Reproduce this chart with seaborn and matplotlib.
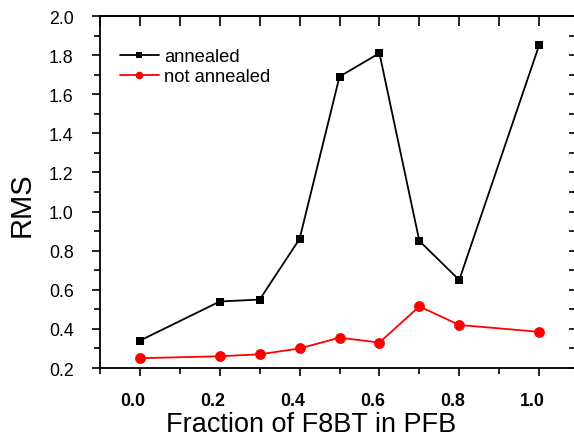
import matplotlib
matplotlib.use("Agg")
import matplotlib.pyplot as plt
import matplotlib.transforms as mtransforms
import seaborn as sns
import pandas as pd
from matplotlib.ticker import MultipleLocator, FormatStrFormatter

fraction_annealed = [0.0, 0.2, 0.3, 0.4, 0.5, 0.6, 0.7, 0.8, 1.0]
rms_annealed = [0.34, 0.54, 0.55, 0.86, 1.69, 1.81, 0.85, 0.65, 1.85]
fraction_not = [0.0, 0.2, 0.3, 0.4, 0.5, 0.6, 0.7, 0.8, 1.0]
rms_not = [0.25, 0.26, 0.27, 0.30, 0.355, 0.33, 0.515, 0.42, 0.385]
series_names = ["annealed", "not annealed"]

df = pd.concat([
    pd.DataFrame({"x": fraction_annealed, "y": rms_annealed, "s": series_names[0]}),
    pd.DataFrame({"x": fraction_not, "y": rms_not, "s": series_names[1]}),
])

sns.set_style("ticks")
plt.rcParams["font.family"] = ["Liberation Sans", "DejaVu Sans"]
plt.rcParams["text.color"] = "black"
plt.rcParams["axes.labelcolor"] = "black"
plt.rcParams["xtick.color"] = "black"
plt.rcParams["ytick.color"] = "black"

fig = plt.figure(figsize=(5.74, 4.39), dpi=100)
W, H = 574, 439
ax = fig.add_axes([100 / W, 1 - 369 / H, (579 - 100) / W, (369 - 17) / H])

sns.lineplot(data=df, x="x", y="y", hue="s", style="s",
             palette={"annealed": "black", "not annealed": "red"},
             markers={"annealed": "s", "not annealed": "o"},
             dashes=False, linewidth=1.3,
             markeredgewidth=0, ax=ax, sort=False)
for ln in ax.lines:
    c = ln.get_color()
    ln.set_markersize(6.2 if c == "black" else 7.8)
    ln.set_clip_on(False)

ax.set_xlim(-0.1, 1.1)
ax.set_ylim(0.2, 2.0)
ax.xaxis.set_major_locator(MultipleLocator(0.2))
ax.xaxis.set_minor_locator(MultipleLocator(0.1))
ax.yaxis.set_major_locator(MultipleLocator(0.2))
ax.yaxis.set_minor_locator(MultipleLocator(0.1))
ax.xaxis.set_major_formatter(FormatStrFormatter("%.1f"))
ax.yaxis.set_major_formatter(FormatStrFormatter("%.1f"))

for s in ax.spines.values():
    s.set_linewidth(1.3)
    s.set_color("black")

ax.tick_params(which="both", direction="out", width=1.2, color="black",
               labelcolor="black")
ax.tick_params(which="major", length=6)
ax.tick_params(which="minor", length=4)
ax.tick_params(axis="x", which="major", labelsize=12.8, pad=11)
ax.tick_params(axis="y", which="major", labelsize=12.8, pad=13)
shift = mtransforms.ScaledTranslation(-7 / 100, 0, fig.dpi_scale_trans)
for lab in ax.get_xticklabels():
    lab.set_fontweight("bold")
    lab.set_transform(lab.get_transform() + shift)

top = ax.secondary_xaxis("top")
top.xaxis.set_major_locator(MultipleLocator(0.1))
top.tick_params(direction="in", length=7, width=1.2, labeltop=False)
right = ax.secondary_yaxis("right")
right.yaxis.set_major_locator(MultipleLocator(0.1))
right.tick_params(direction="in", length=7, width=1.2, labelright=False)
for sa in (top, right):
    for s in sa.spines.values():
        s.set_linewidth(1.3)

ax.set_xlabel("Fraction of F8BT in PFB", fontsize=19.5)
ax.xaxis.label.set_va("baseline")
ax.xaxis.set_label_coords((311 - 100) / 479, (369 - 432) / 352)
ax.set_ylabel("RMS", fontsize=21)
ax.yaxis.label.set_va("center")
ax.yaxis.label.set_ha("center")
ax.yaxis.set_label_coords((22 - 100) / 479, 1 - (205 - 17) / 352)

handles, labels = ax.get_legend_handles_labels()
leg = ax.legend(handles=handles, labels=labels, loc="upper left",
                bbox_to_anchor=((120 - 100) / 479, 1 - (49 - 17) / 352),
                frameon=False, fontsize=13.2, borderpad=0,
                handlelength=2.1, handletextpad=0.3, borderaxespad=0.0,
                labelspacing=0.18)
for h in leg.legend_handles:
    c = h.get_color()
    h.set_markersize(4.5 if c == "black" else 5.5)

fig.savefig("out.png", dpi=100)
